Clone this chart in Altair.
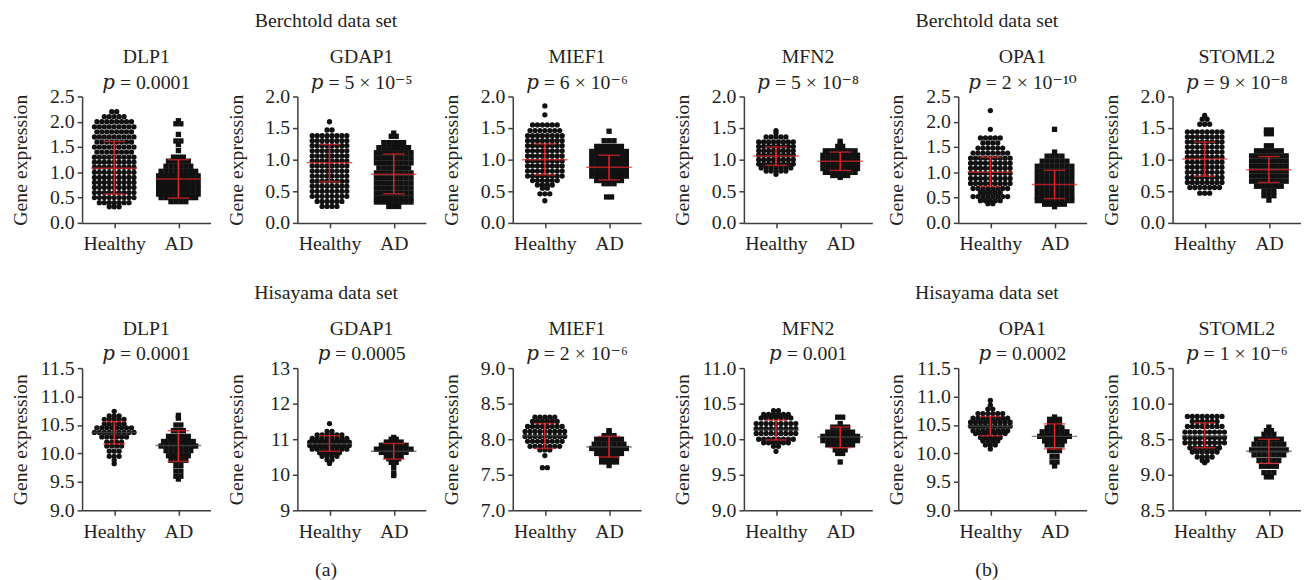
import altair as alt
import pandas as pd

# ---------------- data ----------------
GENES = ["DLP1", "GDAP1", "MIEF1", "MFN2", "OPA1", "STOML2"]
GROUPS = ["Healthy", "AD"]

B_PTEXT = ["𝑝 = 0.0001", "𝑝 = 5 × 10⁻⁵", "𝑝 = 6 × 10⁻⁶", "𝑝 = 5 × 10⁻⁸", "𝑝 = 2 × 10⁻¹⁰", "𝑝 = 9 × 10⁻⁸"]
H_PTEXT = ["𝑝 = 0.0001", "𝑝 = 0.0005", "𝑝 = 2 × 10⁻⁶", "𝑝 = 0.001", "𝑝 = 0.0002", "𝑝 = 1 × 10⁻⁶"]

B_YMIN = [0.0, 0.0, 0.0, 0.0, 0.0, 0.0]
B_YMAX = [2.5, 2.0, 2.0, 2.0, 2.5, 2.0]
B_YSTEP = [0.5, 0.5, 0.5, 0.5, 0.5, 0.5]
H_YMIN = [9.0, 9.0, 7.0, 9.0, 9.0, 8.5]
H_YMAX = [11.5, 13.0, 9.0, 11.0, 11.5, 10.5]
H_YSTEP = [0.5, 1.0, 0.5, 0.5, 0.5, 0.5]
H_STOML2_TICK_TEXT = ["8.5", "9.0", "8.5", "10.0", "10.5"]

# mean and mean +/- SD (Healthy, AD)
B_MEAN_H = [1.08, 0.95, 1.00, 1.06, 1.00, 1.01]
B_HI_H = [1.61, 1.24, 1.25, 1.20, 1.30, 1.28]
B_LO_H = [0.57, 0.65, 0.76, 0.91, 0.72, 0.74]
B_MEAN_AD = [0.87, 0.77, 0.88, 0.975, 0.76, 0.84]
B_HI_AD = [1.25, 1.09, 1.07, 1.12, 1.04, 1.05]
B_LO_AD = [0.49, 0.46, 0.68, 0.83, 0.48, 0.64]
H_MEAN_H = [10.37, 10.87, 8.05, 10.13, 10.48, 9.55]
H_HI_H = [10.56, 11.10, 8.22, 10.27, 10.65, 9.73]
H_LO_H = [10.17, 10.66, 7.87, 9.99, 10.31, 9.38]
H_MEAN_AD = [10.14, 10.66, 7.89, 10.03, 10.30, 9.33]
H_HI_AD = [10.40, 10.88, 8.04, 10.17, 10.52, 9.50]
H_LO_AD = [9.86, 10.44, 7.75, 9.88, 10.08, 9.16]

# individual samples, as value levels and number of dots at each level
B_DLP1_H_V = [0.32, 0.40, 0.50, 0.60, 0.70, 0.80, 0.90, 1.00, 1.10, 1.20, 1.30, 1.40, 1.50, 1.60, 1.70, 1.80, 1.90, 2.00, 2.10, 2.20]
B_DLP1_H_N = [3, 7, 9, 9, 9, 9, 9, 9, 9, 9, 9, 8, 9, 8, 9, 8, 9, 8, 5, 2]
B_DLP1_AD_V = [0.42, 0.50, 0.57, 0.66, 0.75, 0.84, 0.93, 1.02, 1.12, 1.22, 1.30, 1.43, 1.55, 1.62, 1.75, 1.96, 2.02]
B_DLP1_AD_N = [4, 8, 9, 9, 9, 9, 9, 8, 6, 5, 3, 1, 1, 2, 1, 2, 1]
B_GDAP1_H_V = [0.26, 0.34, 0.42, 0.50, 0.58, 0.66, 0.74, 0.82, 0.90, 0.98, 1.06, 1.14, 1.22, 1.30, 1.38, 1.47, 1.60]
B_GDAP1_H_N = [4, 6, 8, 8, 8, 8, 8, 8, 8, 8, 8, 8, 8, 8, 8, 2, 1]
B_GDAP1_AD_V = [0.26, 0.33, 0.39, 0.47, 0.55, 0.63, 0.71, 0.79, 0.87, 0.95, 1.03, 1.11, 1.19, 1.27, 1.37, 1.42]
B_GDAP1_AD_N = [3, 8, 8, 8, 8, 8, 8, 8, 7, 8, 8, 8, 7, 5, 2, 1]
B_MIEF1_H_V = [0.35, 0.46, 0.55, 0.60, 0.67, 0.74, 0.82, 0.90, 0.98, 1.06, 1.14, 1.22, 1.30, 1.38, 1.46, 1.55, 1.71, 1.85]
B_MIEF1_H_N = [1, 3, 2, 4, 6, 8, 8, 8, 8, 8, 8, 8, 8, 8, 7, 6, 1, 1]
B_MIEF1_AD_V = [0.41, 0.62, 0.67, 0.74, 0.81, 0.89, 0.97, 1.05, 1.13, 1.21, 1.30, 1.45]
B_MIEF1_AD_N = [2, 3, 6, 8, 8, 8, 8, 8, 8, 6, 3, 1]
B_MFN2_H_V = [0.77, 0.82, 0.87, 0.93, 1.00, 1.07, 1.14, 1.21, 1.28, 1.36, 1.42, 1.46]
B_MFN2_H_N = [1, 5, 7, 8, 8, 8, 8, 8, 8, 5, 1, 1]
B_MFN2_AD_V = [0.72, 0.75, 0.80, 0.86, 0.93, 1.00, 1.07, 1.14, 1.21, 1.25, 1.29]
B_MFN2_AD_N = [1, 4, 7, 8, 8, 8, 8, 7, 2, 1, 1]
B_OPA1_H_V = [0.38, 0.44, 0.52, 0.60, 0.68, 0.78, 0.88, 0.98, 1.08, 1.18, 1.28, 1.38, 1.48, 1.58, 1.68, 1.85, 2.22]
B_OPA1_H_N = [2, 5, 8, 5, 8, 9, 9, 9, 9, 9, 9, 8, 6, 4, 5, 1, 1]
B_OPA1_AD_V = [0.32, 0.37, 0.44, 0.52, 0.62, 0.72, 0.82, 0.92, 1.02, 1.12, 1.22, 1.32, 1.40, 1.85]
B_OPA1_AD_N = [1, 5, 8, 8, 8, 8, 8, 8, 8, 8, 6, 4, 1, 1]
B_STOML2_H_V = [0.47, 0.56, 0.64, 0.72, 0.80, 0.88, 0.96, 1.04, 1.12, 1.20, 1.28, 1.36, 1.44, 1.56, 1.64, 1.70]
B_STOML2_H_N = [3, 7, 8, 8, 8, 8, 8, 8, 8, 8, 8, 8, 8, 3, 2, 1]
B_STOML2_AD_V = [0.36, 0.43, 0.50, 0.58, 0.66, 0.74, 0.82, 0.90, 0.98, 1.06, 1.14, 1.22, 1.41, 1.47]
B_STOML2_AD_N = [1, 3, 3, 6, 8, 8, 8, 8, 8, 8, 6, 2, 2, 2]

H_DLP1_H_V = [9.82, 9.88, 9.95, 10.04, 10.13, 10.20, 10.29, 10.37, 10.45, 10.52, 10.60, 10.66, 10.74]
H_DLP1_H_N = [1, 1, 3, 3, 4, 4, 6, 9, 8, 5, 5, 3, 1]
H_DLP1_AD_V = [9.55, 9.60, 9.69, 9.79, 9.88, 9.96, 10.05, 10.13, 10.21, 10.30, 10.40, 10.50, 10.62, 10.67]
H_DLP1_AD_N = [1, 2, 2, 2, 4, 5, 6, 8, 7, 5, 3, 2, 1, 1]
H_GDAP1_H_V = [10.32, 10.42, 10.52, 10.62, 10.72, 10.82, 10.92, 11.02, 11.12, 11.22, 11.44]
H_GDAP1_H_N = [1, 2, 4, 5, 8, 9, 9, 8, 6, 2, 1]
H_GDAP1_AD_V = [9.98, 10.05, 10.20, 10.35, 10.45, 10.52, 10.63, 10.72, 10.83, 10.92, 11.00, 11.05]
H_GDAP1_AD_N = [1, 1, 1, 2, 3, 4, 6, 8, 6, 4, 2, 1]
H_MIEF1_H_V = [7.60, 7.77, 7.85, 7.90, 7.97, 8.04, 8.11, 8.18, 8.25, 8.31]
H_MIEF1_H_N = [2, 1, 3, 7, 8, 9, 9, 8, 6, 5]
H_MIEF1_AD_V = [7.63, 7.68, 7.73, 7.80, 7.87, 7.93, 8.00, 8.05, 8.10, 8.12]
H_MIEF1_AD_N = [1, 4, 4, 6, 8, 7, 6, 3, 1, 1]
H_MFN2_H_V = [9.83, 9.90, 9.95, 10.00, 10.08, 10.15, 10.22, 10.30, 10.35, 10.40]
H_MFN2_H_N = [1, 2, 6, 8, 9, 9, 9, 7, 6, 2]
H_MFN2_AD_V = [9.68, 9.80, 9.85, 9.92, 9.98, 10.04, 10.10, 10.17, 10.22, 10.31]
H_MFN2_AD_N = [1, 2, 3, 6, 8, 8, 6, 4, 1, 2]
H_OPA1_H_V = [10.08, 10.15, 10.22, 10.28, 10.35, 10.40, 10.48, 10.55, 10.62, 10.70, 10.78, 10.85, 10.93]
H_OPA1_H_N = [1, 3, 4, 5, 7, 8, 9, 9, 8, 6, 2, 1, 1]
H_OPA1_AD_V = [9.78, 9.85, 9.95, 10.05, 10.15, 10.22, 10.30, 10.38, 10.45, 10.52, 10.60, 10.64]
H_OPA1_AD_N = [1, 2, 2, 3, 4, 5, 7, 6, 4, 3, 3, 1]
H_STOML2_H_V = [9.17, 9.20, 9.25, 9.32, 9.38, 9.45, 9.52, 9.60, 9.68, 9.75, 9.82]
H_STOML2_H_N = [1, 2, 4, 6, 7, 9, 9, 9, 8, 6, 8]
H_STOML2_AD_V = [8.97, 9.03, 9.12, 9.20, 9.28, 9.35, 9.43, 9.50, 9.57, 9.62, 9.67]
H_STOML2_AD_N = [2, 3, 4, 5, 7, 8, 7, 6, 3, 2, 1]

B_SAMPLES = [
    (B_DLP1_H_V, B_DLP1_H_N, B_DLP1_AD_V, B_DLP1_AD_N),
    (B_GDAP1_H_V, B_GDAP1_H_N, B_GDAP1_AD_V, B_GDAP1_AD_N),
    (B_MIEF1_H_V, B_MIEF1_H_N, B_MIEF1_AD_V, B_MIEF1_AD_N),
    (B_MFN2_H_V, B_MFN2_H_N, B_MFN2_AD_V, B_MFN2_AD_N),
    (B_OPA1_H_V, B_OPA1_H_N, B_OPA1_AD_V, B_OPA1_AD_N),
    (B_STOML2_H_V, B_STOML2_H_N, B_STOML2_AD_V, B_STOML2_AD_N),
]
H_SAMPLES = [
    (H_DLP1_H_V, H_DLP1_H_N, H_DLP1_AD_V, H_DLP1_AD_N),
    (H_GDAP1_H_V, H_GDAP1_H_N, H_GDAP1_AD_V, H_GDAP1_AD_N),
    (H_MIEF1_H_V, H_MIEF1_H_N, H_MIEF1_AD_V, H_MIEF1_AD_N),
    (H_MFN2_H_V, H_MFN2_H_N, H_MFN2_AD_V, H_MFN2_AD_N),
    (H_OPA1_H_V, H_OPA1_H_N, H_OPA1_AD_V, H_OPA1_AD_N),
    (H_STOML2_H_V, H_STOML2_H_N, H_STOML2_AD_V, H_STOML2_AD_N),
]

# ---------------- style / layout ----------------
SERIF = "Liberation Serif, DejaVu Serif, serif"
TEXT = "#231f20"
AXIS = "#3c3c3c"
RED = "#e3262b"
PANEL_W = 130
TOP_H = 128
BOT_H = 144
DOT_PX = 5.0
DOT_STEP = DOT_PX / (PANEL_W / 2.0)


def swarm_rows(levels, counts, gi):
    rows = []
    for v, n in zip(levels, counts):
        for j in range(n):
            rows.append({"xpos": gi + (j - (n - 1) / 2.0) * DOT_STEP, "value": v, "group": GROUPS[gi]})
    return rows


def panel(gene, ptext, samples, stats, ymin, ymax, ystep, height, mean_color, tick_text=None):
    hv, hn, av, an = samples
    pts = pd.DataFrame(swarm_rows(hv, hn, 0) + swarm_rows(av, an, 1))
    st = pd.DataFrame({
        "xpos": [0, 1],
        "mean": [stats[0], stats[3]],
        "hi": [stats[1], stats[4]],
        "lo": [stats[2], stats[5]],
    })
    nt = int(round((ymax - ymin) / ystep))
    ticks = [round(ymin + i * ystep, 4) for i in range(nt + 1)]
    common = dict(values=ticks, title="Gene expression", titleX=-56, titleBaseline="alphabetic",
                  labelOverlap=False, labelSeparation=0)
    if tick_text is None:
        fmt = ".0f" if ystep >= 1 else ".1f"
        yaxis = alt.Axis(format=fmt, **common)
    else:
        expr = "[" + ",".join("'%s'" % t for t in tick_text) + "][indexof([" + ",".join(str(t) for t in ticks) + "], datum.value)]"
        yaxis = alt.Axis(labelExpr=expr, **common)

    xs = alt.Scale(domain=[-0.5, 1.5], nice=False, zero=False)
    ys = alt.Scale(domain=[ymin, ymax], nice=False, zero=False)
    xaxis = alt.Axis(values=[0, 1], labelExpr="datum.value == 0 ? 'Healthy' : 'AD'", title=None,
                     labelPadding=6, labelOverlap=False)

    dots = alt.Chart(pts).mark_point(filled=True, size=29, opacity=1, color="#111111").encode(
        x=alt.X("xpos:Q", scale=xs, axis=xaxis),
        y=alt.Y("value:Q", scale=ys, axis=yaxis),
        shape=alt.Shape("group:N", scale=alt.Scale(domain=GROUPS, range=["circle", "square"]), legend=None),
    )
    base = alt.Chart(st)
    X = alt.X("xpos:Q", scale=xs, axis=xaxis)
    vline = base.mark_rule(color=RED, strokeWidth=1.5).encode(
        x=X, y=alt.Y("lo:Q", scale=ys, axis=yaxis), y2="hi:Q")
    cap_hi = base.mark_tick(orient="horizontal", size=22, thickness=1.5, color=RED).encode(
        x=X, y=alt.Y("hi:Q", scale=ys, axis=yaxis))
    cap_lo = base.mark_tick(orient="horizontal", size=22, thickness=1.5, color=RED).encode(
        x=X, y=alt.Y("lo:Q", scale=ys, axis=yaxis))
    mline = base.mark_tick(orient="horizontal", size=46, thickness=1.5, color=mean_color).encode(
        x=X, y=alt.Y("mean:Q", scale=ys, axis=yaxis))

    return alt.layer(dots, vline, cap_hi, cap_lo, mline).properties(
        width=PANEL_W,
        height=height,
        title=alt.TitleParams(
            text=gene, subtitle=ptext, font=SERIF, fontSize=20, fontWeight="normal", color=TEXT,
            subtitleFont=SERIF, subtitleFontSize=20, subtitleColor=TEXT, subtitlePadding=6,
            offset=-6, anchor="middle", frame="group",
        ),
    )


def set_title(text):
    return alt.TitleParams(text=text, font=SERIF, fontSize=20, fontWeight="normal", color=TEXT, offset=16, anchor="middle")


def row(dataset, idxs, spacing):
    charts = []
    for i in idxs:
        if dataset == "B":
            stats = (B_MEAN_H[i], B_HI_H[i], B_LO_H[i], B_MEAN_AD[i], B_HI_AD[i], B_LO_AD[i])
            charts.append(panel(GENES[i], B_PTEXT[i], B_SAMPLES[i], stats, B_YMIN[i], B_YMAX[i], B_YSTEP[i], TOP_H, RED))
        else:
            stats = (H_MEAN_H[i], H_HI_H[i], H_LO_H[i], H_MEAN_AD[i], H_HI_AD[i], H_LO_AD[i])
            tt = H_STOML2_TICK_TEXT if GENES[i] == "STOML2" else None
            charts.append(panel(GENES[i], H_PTEXT[i], H_SAMPLES[i], stats, H_YMIN[i], H_YMAX[i], H_YSTEP[i], BOT_H, "#4a4a4a", tt))
    title = "Berchtold data set" if dataset == "B" else "Hisayama data set"
    return alt.hconcat(*charts, spacing=spacing, bounds="flush", title=set_title(title))


def column(idxs, spacing, label):
    return alt.vconcat(
        row("B", idxs, spacing), row("H", idxs, spacing), spacing=30,
        title=alt.TitleParams(text=label, orient="bottom", font=SERIF, fontSize=20, fontWeight="normal", color=TEXT, offset=19, anchor="middle"),
    )


chart = alt.hconcat(
    column([0, 1, 2], 88, "(a)"), column([3, 4, 5], 87, "(b)"), spacing=32
).properties(
    background="white", padding={"left": 3, "top": 0, "right": 0, "bottom": 0}
).configure_view(
    stroke=None
).configure_axis(
    domainColor=AXIS, domainWidth=1.5, tickColor=AXIS, tickWidth=1.5, tickSize=5, grid=False,
    labelFont=SERIF, labelFontSize=20, labelColor=TEXT, labelPadding=3, labelOverlap=False,
    titleFont=SERIF, titleFontSize=20, titleFontWeight="normal", titleColor=TEXT,
)

chart.save("out.html", embed_options={"renderer": "svg", "actions": False})
